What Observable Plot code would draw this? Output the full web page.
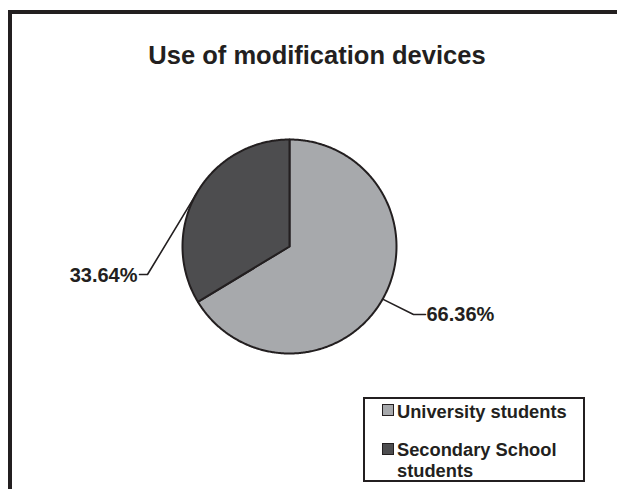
<!DOCTYPE html>
<html><head><meta charset="utf-8">
<script src="https://cdn.jsdelivr.net/npm/d3@7"></script>
<script src="https://cdn.jsdelivr.net/npm/@observablehq/plot@0.6"></script>
<style>
html,body{margin:0;padding:0;background:#fff;overflow:hidden;width:617px;height:489px}
#wrap{position:relative;width:617px;height:489px;overflow:hidden;font-family:"Liberation Sans",Arial,Helvetica,sans-serif;color:#231f20}
#ftop{position:absolute;left:8px;top:10px;width:609px;height:4px;background:#231f20}
#fleft{position:absolute;left:8px;top:10px;width:4px;height:479px;background:#231f20}
#title{position:absolute;left:117px;width:400px;top:40px;line-height:30px;font-size:25.5px;font-weight:bold;text-align:center;white-space:nowrap}
#chart{position:absolute;left:0;top:0;width:617px;height:489px}
#chart svg{display:block}
#legend{position:absolute;left:363px;top:397px;width:222px;height:85px;border:2px solid #231f20;box-sizing:border-box;background:#fff}
.sw{position:absolute;left:17px;width:12px;height:12px;border:1.5px solid #231f20;box-sizing:border-box}
.lt{position:absolute;left:32px;font-size:18.3px;font-weight:bold;line-height:21px;white-space:nowrap}
</style></head>
<body>
<div id="wrap">
  <div id="ftop"></div>
  <div id="fleft"></div>
  <div id="title"></div>
  <div id="chart"></div>
  <div id="legend"></div>
</div>
<script>
// ---- data ----
const title = "Use of modification devices";
const categories = ["University students", "Secondary School students"];
const values = [66.36, 33.64];
const valueLabels = ["66.36%", "33.64%"];
const colors = ["#a7a9ac", "#4d4d4f"];

// ---- layout (unit-radius coordinates for label elbows / ends) ----
const labelElbow = [[1.159, -0.636], [-1.327, -0.262]];
const labelEnd = [[1.271, -0.636], [-1.402, -0.262]];
const legendLines = [["University students"], ["Secondary School", "students"]];

document.getElementById("title").textContent = title;

const arcs = d3.pie().sort(null).value(d => d)(values);
const slicePts = [];
arcs.forEach((a, i) => {
  const cat = categories[i];
  slicePts.push({x: 0, y: 0, cat});
  const n = Math.max(2, Math.ceil((a.endAngle - a.startAngle) / 0.01));
  for (let k = 0; k <= n; k++) {
    const t = a.startAngle + (a.endAngle - a.startAngle) * k / n;
    slicePts.push({x: Math.sin(t), y: Math.cos(t), cat});
  }
});

const leaderPts = [];
const labelData = [];
arcs.forEach((a, i) => {
  const m = (a.startAngle + a.endAngle) / 2;
  leaderPts.push({x: Math.sin(m), y: Math.cos(m), cat: categories[i]});
  leaderPts.push({x: labelElbow[i][0], y: labelElbow[i][1], cat: categories[i]});
  leaderPts.push({x: labelEnd[i][0], y: labelEnd[i][1], cat: categories[i]});
  labelData.push({x: labelEnd[i][0], y: labelEnd[i][1], text: valueLabels[i], right: labelEnd[i][0] > 0});
});

const cx = 289, cy = 246, r = 107;
const plot = Plot.plot({
  width: 617, height: 489,
  margin: 0,
  style: {background: "transparent"},
  x: {domain: [-1, 1], range: [cx - r, cx + r], axis: null},
  y: {domain: [-1, 1], range: [cy + r, cy - r], axis: null},
  color: {domain: categories, range: colors},
  marks: [
    Plot.line(slicePts, {x: "x", y: "y", z: "cat", fill: "cat", stroke: "#231f20", strokeWidth: 2, curve: "linear-closed", strokeLinejoin: "round"}),
    Plot.line(leaderPts, {x: "x", y: "y", z: "cat", stroke: "#231f20", strokeWidth: 1.6}),
    Plot.text(labelData.filter(d => d.right), {x: "x", y: "y", text: "text", textAnchor: "start", dx: 1, fontSize: 20, fontWeight: "bold", fill: "#231f20", fontFamily: "Liberation Sans, Arial, sans-serif"}),
    Plot.text(labelData.filter(d => !d.right), {x: "x", y: "y", text: "text", textAnchor: "end", dx: -2, dy: 1, fontSize: 20, fontWeight: "bold", fill: "#231f20", fontFamily: "Liberation Sans, Arial, sans-serif"})
  ]
});
document.getElementById("chart").appendChild(plot);

// legend
const lg = document.getElementById("legend");
const swTop = [5, 44], txtTop = [1.5, 39.5];
categories.forEach((c, i) => {
  const sw = document.createElement("div");
  sw.className = "sw"; sw.style.top = swTop[i] + "px"; sw.style.background = colors[i];
  lg.appendChild(sw);
  const t = document.createElement("div");
  t.className = "lt"; t.style.top = txtTop[i] + "px";
  t.innerHTML = legendLines[i].join("<br>");
  lg.appendChild(t);
});
</script>
</body></html>
